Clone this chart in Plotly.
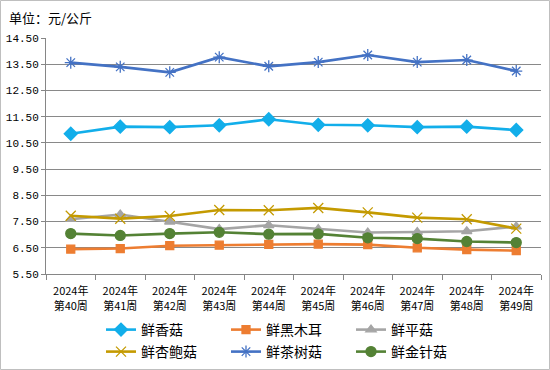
import plotly.graph_objects as go

weeks = ["2024年<br>第40周", "2024年<br>第41周", "2024年<br>第42周", "2024年<br>第43周", "2024年<br>第44周",
         "2024年<br>第45周", "2024年<br>第46周", "2024年<br>第47周", "2024年<br>第48周", "2024年<br>第49周"]

xianggu   = [10.85, 11.12, 11.10, 11.17, 11.40, 11.19, 11.17, 11.10, 11.12, 10.99]
heimuer   = [6.45, 6.47, 6.58, 6.60, 6.63, 6.64, 6.62, 6.50, 6.43, 6.39]
pinggu    = [7.59, 7.77, 7.49, 7.21, 7.36, 7.21, 7.08, 7.10, 7.13, 7.31]
xingbaogu = [7.72, 7.61, 7.71, 7.94, 7.93, 8.02, 7.85, 7.65, 7.59, 7.23]
chashugu  = [13.56, 13.40, 13.19, 13.77, 13.42, 13.58, 13.85, 13.58, 13.66, 13.24]
jinzhengu = [7.04, 6.97, 7.04, 7.09, 7.02, 7.03, 6.88, 6.85, 6.74, 6.70]

yticks = [5.5, 6.5, 7.5, 8.5, 9.5, 10.5, 11.5, 12.5, 13.5, 14.5]
ytick_text = ["5.50", "6.50", "7.50", "8.50", "9.50", "10.50", "11.50", "12.50", "13.50", "14.50"]

series = [
    ("鲜香菇", xianggu, "#12AEEA", "diamond", 10, "legend"),
    ("鲜黑木耳", heimuer, "#ED7D31", "square", 8, "legend"),
    ("鲜平菇", pinggu, "#A5A5A5", "triangle-up", 9, "legend"),
    ("鲜杏鲍菇", xingbaogu, "#C49A00", "x-thin-open", 10, "legend2"),
    ("鲜茶树菇", chashugu, "#4472C4", "asterisk-open", 10, "legend2"),
    ("鲜金针菇", jinzhengu, "#548235", "circle", 10, "legend2"),
]

fig = go.Figure()
for name, vals, col, sym, sz, lg in series:
    fig.add_trace(go.Scatter(
        x=weeks, y=vals, name=name, mode="lines+markers", legend=lg,
        line=dict(color=col, width=2.6),
        marker=dict(symbol=sym, size=sz, color=col, line=dict(color=col, width=1.3)),
    ))

W, H = 550, 370
L, R, T, B = 46, 9, 38, 96
pw, ph = W - L - R, H - T - B

leg_common = dict(orientation="h", xref="container", yref="container",
                  xanchor="left", yanchor="middle",
                  entrywidth=80, entrywidthmode="pixels",
                  font=dict(size=14, family="Noto Sans CJK SC"),
                  tracegroupgap=0, itemwidth=30, bgcolor="rgba(0,0,0,0)")

fig.update_layout(
    width=W, height=H,
    margin=dict(l=L, r=R, t=T, b=B, autoexpand=False),
    paper_bgcolor="white", plot_bgcolor="white",
    font=dict(family="Noto Sans CJK SC", size=11, color="#000000"),
    showlegend=True,
    legend=dict(leg_common, x=101 / W, y=1 - 330 / H),
    legend2=dict(leg_common, x=101 / W, y=1 - 352 / H),
    xaxis=dict(
        automargin=False,
        showgrid=False, showline=True, linecolor="#868686", linewidth=1,
        ticks="outside", ticklen=5, tickcolor="#868686", tickson="boundaries",
        tickfont=dict(size=11), range=[-0.5, 9.5], fixedrange=True,
        ticklabelstandoff=7,
    ),
    yaxis=dict(
        automargin=False,
        range=[5.5, 14.5], tickvals=yticks, ticktext=ytick_text,
        showgrid=True, gridcolor="#898989", gridwidth=1,
        showline=True, linecolor="#868686", linewidth=1,
        ticks="outside", ticklen=4, tickcolor="#868686",
        tickfont=dict(size=11, family="Liberation Mono"), zeroline=False,
    ),
    annotations=[dict(
        text="单位：元/公斤", xref="paper", yref="paper",
        x=(7 - L) / pw, y=1 + (T - 17) / ph, xanchor="left", yanchor="middle",
        showarrow=False, font=dict(size=13, family="Noto Sans CJK SC"),
    )],
    shapes=[dict(
        type="rect", xref="paper", yref="paper", layer="below",
        x0=(0.5 - L) / pw, x1=(W - 0.5 - L) / pw,
        y0=-(H - 0.5 - (H - B)) / ph, y1=((H - B) - 0.5) / ph,
        line=dict(color="#BFBFBF", width=1),
    )],
)

fig.write_html("out.html", config={"displayModeBar": False},
               post_script="document.body.style.margin='0';")
